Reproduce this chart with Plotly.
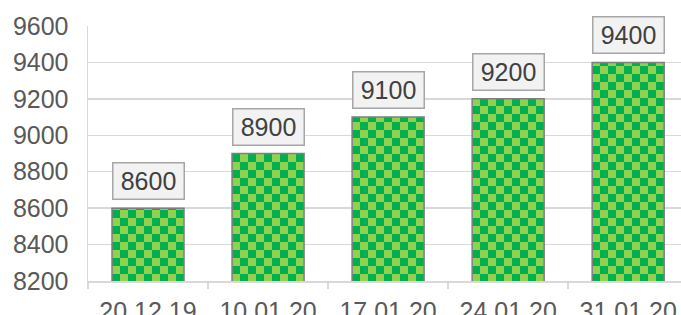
import plotly.graph_objects as go

categories = ["20.12.19", "10.01.20", "17.01.20", "24.01.20", "31.01.20"]
values = [8600, 8900, 9100, 9200, 9400]
y_ticks = [8200, 8400, 8600, 8800, 9000, 9200, 9400, 9600]

FONT = "Liberation Sans, Arial, sans-serif"

fig = go.Figure()
fig.add_trace(go.Bar(
    x=categories,
    y=values,
    width=0.6,
    marker=dict(color="#4CC04F", line=dict(color="#7F7F7F", width=1.5)),
    hoverinfo="skip",
))

for c, v in zip(categories, values):
    fig.add_annotation(
        x=c, y=v, xref="x", yref="y",
        text=str(v), showarrow=False,
        yanchor="bottom", yshift=8,
        font=dict(family=FONT, size=25, color="#404040"),
        bgcolor="#F2F2F2", bordercolor="#A6A6A6", borderwidth=1.5,
        borderpad=1, width=68, height=33,
    )

fig.update_layout(
    width=681, height=315,
    margin=dict(l=88, r=0, t=26, b=34, autoexpand=False),
    plot_bgcolor="white", paper_bgcolor="white",
    showlegend=False,
    font=dict(family=FONT, size=25, color="#595959"),
    xaxis=dict(
        type="category", range=[-0.5, 4.44], automargin=False,
        tickson="boundaries", ticks="outside", ticklen=6,
        tickcolor="#D9D9D9", tickwidth=1.5, ticklabelstandoff=7,
        showline=True, linecolor="#D9D9D9", linewidth=1.5,
        showgrid=False, tickfont=dict(size=25, color="#595959"),
    ),
    yaxis=dict(
        range=[8200, 9600], tickvals=y_ticks, automargin=False,
        showgrid=True, gridcolor="#D9D9D9", gridwidth=1.5,
        showline=True, linecolor="#D9D9D9", linewidth=1.5,
        zeroline=False, ticks="", ticklabelstandoff=13,
        tickfont=dict(size=25, color="#595959"),
    ),
)

post = """
document.body.style.margin='0';
document.body.style.padding='0';
document.body.style.overflow='hidden';
var gd = document.getElementById('{plot_id}');
function applyChecker(){
  var ns='http://www.w3.org/2000/svg';
  var svg = gd.querySelector('svg.main-svg');
  if(!svg) return;
  var defs = svg.querySelector('defs');
  if(!defs){ defs=document.createElementNS(ns,'defs'); svg.insertBefore(defs, svg.firstChild); }
  if(!document.getElementById('checkerpat')){
    var p=document.createElementNS(ns,'pattern');
    p.setAttribute('id','checkerpat'); p.setAttribute('patternUnits','userSpaceOnUse');
    p.setAttribute('width','16'); p.setAttribute('height','16');
    var sq=[[0,0,'#00B050'],[8,0,'#92D050'],[0,8,'#92D050'],[8,8,'#00B050']];
    sq.forEach(function(s){
      var r=document.createElementNS(ns,'rect');
      r.setAttribute('x',s[0]); r.setAttribute('y',s[1]);
      r.setAttribute('width','8'); r.setAttribute('height','8');
      r.setAttribute('fill',s[2]); p.appendChild(r);
    });
    defs.appendChild(p);
  }
  gd.querySelectorAll('.bars .point path').forEach(function(el){ el.style.fill='url(#checkerpat)'; el.style.fillOpacity='1'; });
}
applyChecker();
gd.on('plotly_afterplot', applyChecker);
"""

fig.write_html("out.html", post_script=post, config={"displayModeBar": False, "staticPlot": True})
